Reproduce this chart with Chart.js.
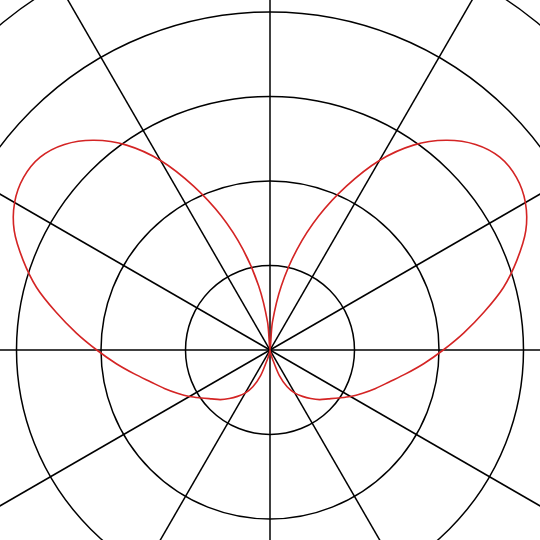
<!DOCTYPE html>
<html>
<head>
<meta charset="utf-8">
<script src="https://cdn.jsdelivr.net/npm/chart.js@4.4.1/dist/chart.umd.min.js"></script>
<style>
  html, body { margin: 0; padding: 0; width: 540px; height: 540px; overflow: hidden; background: #fff; }
  #wrap { position: absolute; left: -180px; top: -100px; width: 900px; height: 900px; }
</style>
</head>
<body>
<div id="wrap"><canvas id="polar" width="900" height="900"></canvas></div>
<script>
// angles in degrees, counter-clockwise from the right-hand horizontal
const angleDeg = [
  0, 5, 10, 15, 20, 25, 30, 35, 40, 45, 50, 55, 60, 65, 70, 75, 80, 85,
  90, 95, 100, 105, 110, 115, 120, 125, 130, 135, 140, 145, 150, 155, 160, 165, 170, 175,
  180, 185, 190, 195, 200, 205, 210, 215, 220, 225, 230, 235, 240, 245, 250, 255, 260, 265,
  270, 275, 280, 285, 290, 295, 300, 305, 310, 315, 320, 325, 330, 335, 340, 345, 350, 355
];
// radius read at each angle (one grid ring = 1)
const radius = [
  2.05, 2.30, 2.57, 2.86, 3.11, 3.34, 3.49, 3.56, 3.55, 3.44, 3.24, 2.96, 2.59, 2.14, 1.69, 1.23, 0.77, 0.33,
  0.00, 0.33, 0.77, 1.23, 1.69, 2.14, 2.59, 2.96, 3.24, 3.44, 3.55, 3.56, 3.49, 3.34, 3.11, 2.86, 2.57, 2.30,
  2.05, 1.83, 1.63, 1.46, 1.33, 1.21, 1.10, 0.99, 0.90, 0.83, 0.75, 0.67, 0.59, 0.48, 0.32, 0.10, 0.03, 0.01,
  0.00, 0.01, 0.03, 0.10, 0.32, 0.48, 0.59, 0.67, 0.75, 0.83, 0.90, 0.99, 1.10, 1.21, 1.33, 1.46, 1.63, 1.83
];
const ringStep = 1;
const spokeEvery = 30; // degrees between drawn spokes

// radar goes clockwise from the top, so reorder the readings
const step = 5;
const labels = [];
const values = [];
for (let i = 0; i < angleDeg.length; i++) {
  const a = ((90 - step * i) % 360 + 360) % 360;
  labels.push(String(a));
  values.push(radius[angleDeg.indexOf(a)]);
}

const pxPerRing = 84.5;
const ctx = document.getElementById('polar').getContext('2d');
new Chart(ctx, {
  type: 'radar',
  data: {
    labels: labels,
    datasets: [{
      data: values,
      borderColor: 'rgb(212, 36, 36)',
      borderWidth: 1.6,
      fill: false,
      pointRadius: 0,
      pointHoverRadius: 0,
      tension: 0.3
    }]
  },
  options: {
    responsive: false,
    animation: false,
    devicePixelRatio: 1,
    layout: { padding: 0 },
    plugins: { legend: { display: false }, tooltip: { enabled: false } },
    scales: {
      r: {
        min: 0,
        max: 450 / pxPerRing,
        ticks: { display: false, stepSize: ringStep },
        pointLabels: { display: false },
        grid: { circular: true, color: '#000', lineWidth: 1.5 },
        angleLines: {
          color: c => (Number(c.label) % spokeEvery === 0 ? '#000' : 'rgba(0,0,0,0)'),
          lineWidth: 1.5
        }
      }
    }
  }
});
</script>
</body>
</html>
